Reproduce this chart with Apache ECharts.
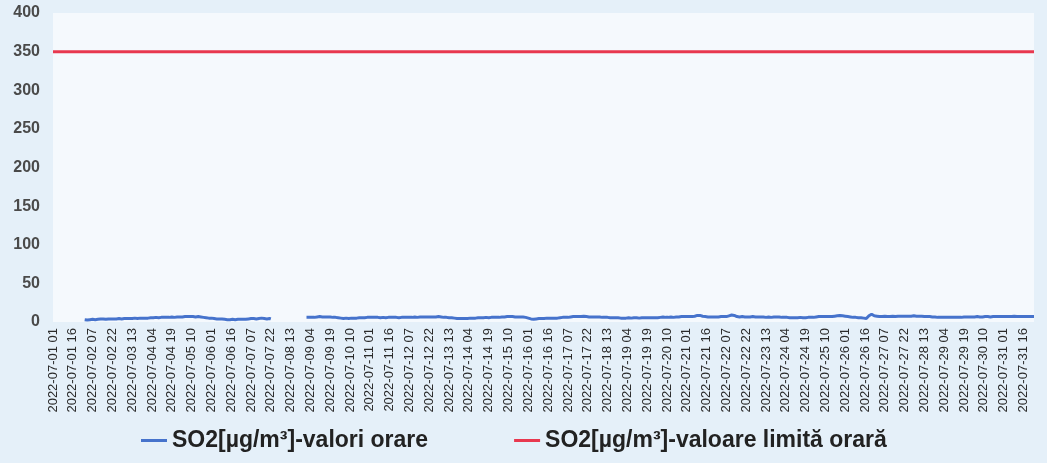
<!DOCTYPE html>
<html>
<head>
<meta charset="utf-8">
<script src="https://cdn.jsdelivr.net/npm/echarts@6/dist/echarts.min.js"></script>
<style>
  html, body { margin: 0; padding: 0; background: #e5f0f9; }
  #chartWrap { width: 1047px; height: 463px; }
</style>
</head>
<body>
<div id="chartWrap"></div>
<script>
// valori orare SO2, un rand pe zi (orele 01..24), '-' = lipsa date
var so2Rows = [
  '- - - - - -  - - - - - -  - - - - - -  - - - - - -',
  '3 3 2.5 3 3 3  3.5 3 3 3.5 3.5 3.5  4 3.5 4 4 3.5 4  4 4 4 3.5 4 4',
  '4 4 4.5 4 4 4.5  4.5 4 4.5 4.5 4.5 5  4.5 4.5 5 5 4.5 5  5 5 5 5.5 5 5',
  '5 5.5 5.5 5 5.5 5.5  6 5.5 5.5 6 6 5.5  6 6 6 6.5 6 6  6.5 6.5 6 6.5 6.5 6.5',
  '6.5 7 6.5 7 7 7.5  7 7 7 6.5 7 7  6.5 6.5 7 6.5 6.5 6  6 6 5.5 5.5 5 5',
  '5 4.5 4.5 4.5 4 4  4 4.5 4 3.5 3.5 3.5  3 3.5 3 3 3.5 3  3 3.5 3.5 3 3.5 3.5',
  '3.5 4 3.5 4 4 4  4.5 4 4.5 4.5 4 4.5  4.5 4.5 5 4.5 4.5 4.5  4 4.5 4.5 4 - -',
  '- - - - - -  - - - - - -  - - - - - -  - - - - - -',
  '6 5.5 6 6 6 6.5  6 6.5 6.5 6.5 7 6.5  6.5 7 6.5 6.5 6.5 6  6.5 6.5 6 6 6 5.5',
  '5.5 5 5 4.5 4.5 4.5  5 4.5 4.5 5 5 5  5 5.5 5 5.5 5.5 5.5  5.5 6 5.5 5.5 6 6',
  '6 5.5 6 6 6 5.5  6 6 5.5 6 6 6  5.5 6 6 6 6 5.5  6 6 6 6 5.5 6',
  '6 6 6 6.5 6 6  6 6.5 6 6 6.5 6  6 6.5 6.5 6 6.5 6.5  6.5 6 6.5 6.5 6.5 7',
  '6.5 7 6.5 7 7 6.5  6.5 6.5 6 6 6 5.5  5.5 5 5.5 5 5 5  4.5 5 4.5 4.5 4.5 4.5',
  '4.5 5 4.5 5 5 5  5 5.5 5 5.5 5.5 5.5  5.5 6 5.5 5.5 6 6  5.5 6 6 6 6 6',
  '6 6.5 6 6.5 6.5 7  6.5 7 7 7.5 7 7  7 7 6.5 7 6.5 6.5  6.5 6 6.5 6 6 5.5',
  '5 4.5 4 4 3.5 4  4 4 4.5 4 4.5 4.5  4.5 4.5 5 4.5 5 5  5 5 5 5.5 5 5.5',
  '5.5 5.5 6 6 6 6.5  6 6.5 6.5 6.5 7 6.5  7 7 7 7 7 7  7.5 7 7 7 6.5 7',
  '6.5 7 6.5 6.5 6.5 6  6.5 6 6 6 6 5.5  6 5.5 5.5 5.5 5.5 5  5.5 5 5.5 5 5 5.5',
  '5 5.5 5 5 5.5 5.5  5 5.5 5.5 5 5.5 5.5  5 5.5 5.5 5.5 5.5 5  5.5 5.5 5.5 5.5 5.5 6',
  '5.5 6 5.5 6 6 6  6.5 6 6 6.5 6 6.5  6.5 6.5 6 6.5 6.5 7  6.5 6.5 7 6.5 7 7',
  '7 7 7 7 7 7.5  7.5 8 8.5 8.5 8.5 8  7.5 7 7 7 6.5 7  6.5 6.5 6.5 6.5 6.5 6.5',
  '6.5 6.5 7 6.5 7 7  7 7.5 8 8.5 9 9.5  8.5 7.5 7 7 6.5 7  7 6.5 6.5 7 6.5 6.5',
  '6.5 6.5 7 6.5 6.5 6.5  6.5 6 6.5 6.5 6.5 6.5  6 6.5 6.5 6.5 6 6.5  6.5 6.5 6.5 6 6.5 6',
  '6 6 6 5.5 6 6  5.5 5.5 5.5 6 5.5 5.5  5.5 5.5 6 5.5 5.5 6  5.5 6 6 6 6 6.5',
  '6 6.5 6.5 6.5 7 6.5  7 7 7 7 7 7  7 7 7 7 7.5 7.5  8 8 8.5 8 8 7.5',
  '7.5 7 7 6.5 6.5 6.5  6 6 6 6 5.5 6  5.5 5.5 5 4.5 4.5 6  8 9.5 10 9 8 7.5',
  '7.5 7 7 7 7 7  7.5 7 7 7.5 7 7.5  7.5 7.5 7 7.5 7.5 7.5  7.5 8 7.5 7.5 7.5 8',
  '7.5 8 7.5 7.5 8 7.5  7.5 7.5 7.5 7 7.5 7  7 7 7 6.5 7 6.5  6.5 6.5 6.5 6.5 6 6.5',
  '6 6 6 6 6 5.5  6 6 6 6 6 6.5  6 6 6 6.5 6 6.5  6.5 6 6.5 6.5 6.5 6.5',
  '6.5 6.5 6.5 6.5 7 6.5  6.5 7 6.5 7 7 7  7 7 6.5 7 7 7  7 7 7 7 7 7',
  '7 7 7 7.5 7 7  7 7 7.5 7 7 7  7 7.5 7 7 7 7  7 7 7 7 7 7'
];
// valoare limita orara
var limitValue = 350;
var yTicks = { min: 0, max: 400, interval: 50 };
var seriesNames = ['SO2[µg/m³]-valori orare', 'SO2[µg/m³]-valoare limită orară'];

function pad(n) { return n < 10 ? '0' + n : '' + n; }

// axa x: 2022-07-01 01 ... 2022-08-01 00
var categories = [];
var so2Values = [];
for (var d = 0; d < so2Rows.length; d++) {
  var vals = so2Rows[d].trim().split(/\s+/);
  for (var h = 1; h <= 24; h++) {
    if (h == 24) {
      categories.push(d + 1 == 31 ? '2022-08-01 00' : '2022-07-' + pad(d + 2) + ' 00');
    } else {
      categories.push('2022-07-' + pad(d + 1) + ' ' + pad(h));
    }
    var v = vals[h - 1];
    so2Values.push(v === '-' || v === undefined ? null : parseFloat(v));
  }
}
var limitData = [[categories[0], limitValue], [categories[categories.length - 1], limitValue]];

var myChart = echarts.init(document.getElementById('chartWrap'));
myChart.setOption({
  backgroundColor: '#e5f0f9',
  animation: false,
  grid: {
    left: 53, right: 13, top: 13, bottom: 141,
    show: true, backgroundColor: '#f5f9fd', borderWidth: 0
  },
  legend: {
    bottom: 6,
    left: 136,
    itemGap: 86,
    itemWidth: 26,
    itemHeight: 3,
    icon: 'rect',
    textStyle: { fontFamily: 'Liberation Sans, Arial', fontSize: 23, fontWeight: 'bold', color: '#222' },
    data: seriesNames
  },
  xAxis: {
    type: 'category',
    data: categories,
    boundaryGap: false,
    axisLine: { show: false },
    axisTick: { show: false },
    splitLine: { show: false },
    axisLabel: {
      interval: 14,
      rotate: 90,
      margin: 6,
      fontFamily: 'Liberation Sans, Arial',
      fontSize: 13,
      color: '#2a2a2a'
    }
  },
  yAxis: {
    type: 'value',
    min: yTicks.min,
    max: yTicks.max,
    interval: yTicks.interval,
    axisLine: { show: false },
    axisTick: { show: false },
    splitLine: { show: false },
    axisLabel: {
      margin: 13,
      fontFamily: 'Liberation Sans, Arial',
      fontSize: 16,
      fontWeight: 'bold',
      color: '#4a4a4a'
    }
  },
  series: [
    {
      name: seriesNames[0],
      type: 'line',
      data: so2Values,
      symbol: 'none',
      connectNulls: false,
      lineStyle: { color: '#4673cc', width: 3 },
      itemStyle: { color: '#4673cc' }
    },
    {
      name: seriesNames[1],
      type: 'line',
      data: limitData,
      symbol: 'none',
      lineStyle: { color: '#e8384f', width: 3 },
      itemStyle: { color: '#e8384f' }
    }
  ]
});
</script>
</body>
</html>
